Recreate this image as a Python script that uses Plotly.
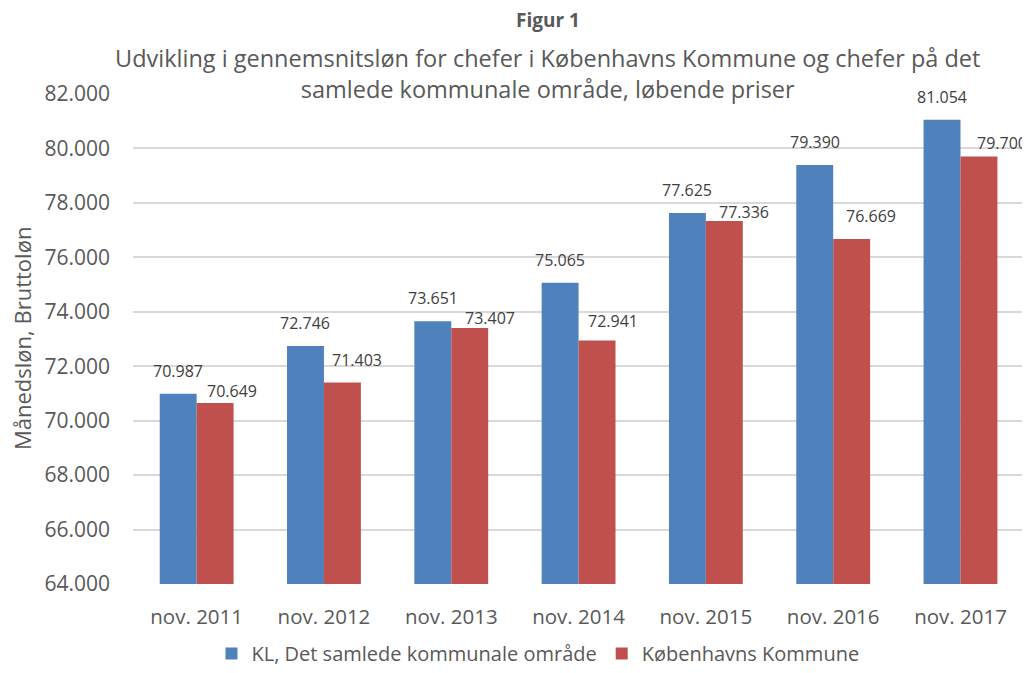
import plotly.graph_objects as go

# data
years = ["nov. 2011", "nov. 2012", "nov. 2013", "nov. 2014", "nov. 2015", "nov. 2016", "nov. 2017"]
kl_values = [70987, 72746, 73651, 75065, 77625, 79390, 81054]
kbh_values = [70649, 71403, 73407, 72941, 77336, 76669, 79700]
series_names = ["KL, Det samlede kommunale område", "Københavns Kommune"]
colors = ["#4F81BD", "#C0504D"]

# the red labels were nudged by hand in the original (pixels: right, up)
kbh_label_dx = [35, 33.5, 38.5, 34.5, 38.5, 37.5, 41.5]
kbh_label_dy = [12, 22, 10, 20, 9, 23, 14]


def fmt(v):
    return f"{v:,}".replace(",", ".")


font_name = "Open Sans"
gray = "#595959"

fig = go.Figure()
for name, vals, col in zip(series_names, [kl_values, kbh_values], colors):
    fig.add_trace(go.Bar(x=years, y=vals, name=name, marker_color=col,
                         marker_line_width=0))

# value labels above the bars
for yr, v in zip(years, kl_values):
    fig.add_annotation(x=yr, y=v, text=fmt(v), showarrow=False, xshift=-18.5,
                       yshift=23, yanchor="middle", font=dict(size=16, color="#404040"))
for yr, v, dx, dy in zip(years, kbh_values, kbh_label_dx, kbh_label_dy):
    fig.add_annotation(x=yr, y=v, text=fmt(v), showarrow=False, xshift=dx,
                       yshift=dy, yanchor="middle", font=dict(size=16, color="#404040"))

fig.update_layout(
    width=1022, height=665,
    margin=dict(l=125, r=1, t=86, b=88),
    plot_bgcolor="white", paper_bgcolor="white",
    font=dict(family=font_name, color=gray, size=20),
    barmode="group", bargap=0.42, bargroupgap=0,
    separators=",.",
    showlegend=True,
    legend=dict(orientation="h", x=0.452, xanchor="center", y=-0.1792, yanchor="bottom",
                font=dict(size=20, color=gray), itemwidth=30),
    xaxis=dict(showgrid=False, showline=False, ticks="", automargin=False,
               tickfont=dict(size=20.5, color=gray), ticklabelstandoff=18),
    yaxis=dict(range=[64000, 82000], dtick=2000, tickformat=",d", automargin=False,
               showgrid=True, gridcolor="#D9D9D9", gridwidth=1.5, zeroline=False,
               tickfont=dict(size=21, color=gray), ticklabelstandoff=22),
)

# y-axis title
fig.add_annotation(text="Månedsløn, Bruttoløn", xref="paper", yref="paper", x=0, y=0.5,
                   xshift=-111, textangle=-90, showarrow=False,
                   font=dict(size=22, color=gray), xanchor="center", yanchor="middle")
# titles
fig.add_annotation(text="<b>Figur 1</b>", xref="paper", yref="paper", x=0.463, y=1.0,
                   yshift=74, showarrow=False, font=dict(size=19, color=gray),
                   yanchor="middle")
fig.add_annotation(text="Udvikling i gennemsnitsløn for chefer i Københavns Kommune og chefer på det<br>samlede kommunale område, løbende priser",
                   xref="paper", yref="paper", x=0.463, y=1.0, yshift=21,
                   showarrow=False, font=dict(size=23.5, color=gray), yanchor="middle")

fig.write_html("out.html")
